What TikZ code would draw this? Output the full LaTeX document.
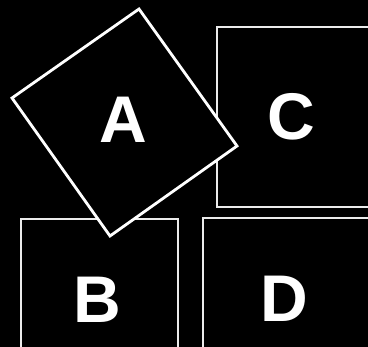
\documentclass[tikz,border=0pt]{standalone}
\usepackage{fontspec}
\setmainfont{Liberation Sans}
\begin{document}
\begin{tikzpicture}[x=1pt,y=-1pt,
  thinbox/.style={draw=white!92!black,line width=1.2pt},
  thickbox/.style={draw=white,line width=2.8pt,line join=miter},
  letter/.style={text=white,font=\fontsize{66}{66}\selectfont\bfseries,inner sep=0pt}]
\fill[black] (0,0) rectangle (368,347);
\useasboundingbox (0,0) rectangle (368,347);
\begin{scope}
\clip (0,0) rectangle (368,347);
% square C (behind A)
\draw[thinbox] (217,27) rectangle (372,207);
% square B
\draw[thinbox] (21,219) rectangle (178,352);
% square D
\draw[thinbox] (203,218) rectangle (372,352);
% tilted square A
\coordinate (at) at (139,9);
\coordinate (al) at (12,98);
\coordinate (ab) at (110,236);
\coordinate (ar) at (237,146);
\filldraw[thickbox,fill=black] (at) -- (ar) -- (ab) -- (al) -- cycle;
\end{scope}
\node[letter] (A) at (123,120) {A};
\node[letter] (C) at (291,117) {C};
\node[letter] (B) at (97,300) {B};
\node[letter] (D) at (284,299) {D};
\end{tikzpicture}
\end{document}
